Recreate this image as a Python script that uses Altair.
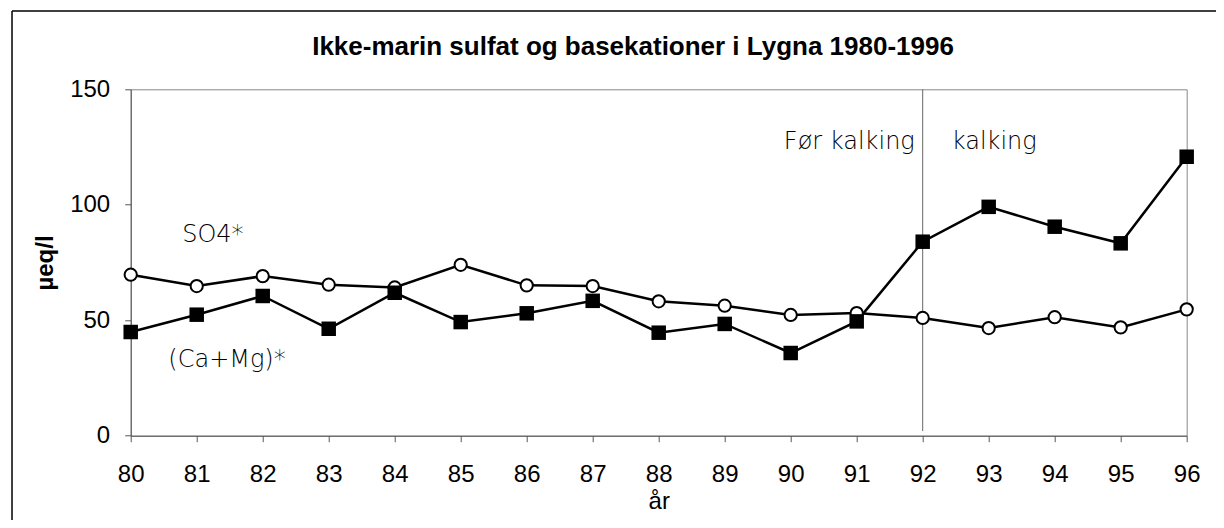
import altair as alt
import pandas as pd

years = [80, 81, 82, 83, 84, 85, 86, 87, 88, 89, 90, 91, 92, 93, 94, 95, 96]
so4 = [69.7, 64.8, 69.1, 65.4, 64.2, 74.0, 65.1, 64.8, 58.2, 56.3, 52.3, 53.1, 51.0, 46.6, 51.3, 46.9, 54.7]
camg = [44.9, 52.4, 60.5, 46.3, 61.9, 49.2, 53.0, 58.4, 44.6, 48.4, 35.8, 49.5, 84.0, 99.1, 90.5, 83.3, 120.8]

title_text = ["Ikke-marin sulfat og basekationer i Lygna 1980-1996"]

label_text = ["SO4*", "(Ca+Mg)*", "Før kalking", "kalking"]
label_x = [80.78, 80.57, 91.88, 92.44]
label_y = [87.0, 32.8, 127.0, 127.0]
label_align = ["left", "left", "right", "left"]

divider_year = [92]
divider_top = [150]
divider_bottom = [2]

W, H = 1056, 346.4
PAD_L, PAD_T = 122.7, 81.3

df_s = pd.DataFrame({"år": years, "v": so4})
df_c = pd.DataFrame({"år": years, "v": camg})
df_lab = pd.DataFrame({"t": label_text, "x": label_x, "y": label_y, "a": label_align})
df_div = pd.DataFrame({"x": divider_year, "y": divider_top, "y2": divider_bottom})
df_title = pd.DataFrame({"t": title_text})

xscale = alt.Scale(domain=[80, 96], nice=False, zero=False)
yscale = alt.Scale(domain=[0, 150], nice=False)

xenc = alt.X("år:Q", scale=xscale,
             axis=alt.Axis(values=years, format="d", title="år", grid=False,
                           tickSize=6, labelPadding=21, titlePadding=3, labelFlush=False,
                           labelFontSize=24, titleFontSize=24, titleFontWeight="normal",
                           labelFont="Liberation Sans", titleFont="Liberation Sans",
                           labelColor="black", titleColor="black",
                           domainColor="#555", tickColor="#555"))
yenc = alt.Y("v:Q", scale=yscale,
             axis=alt.Axis(values=[0, 50, 100, 150], title="µeq/l", grid=False,
                           tickSize=6, labelPadding=15, titlePadding=12, labelFlush=False,
                           labelFontSize=24, titleFontSize=24, titleFontWeight="bold",
                           labelFont="Liberation Sans", titleFont="Liberation Sans",
                           labelColor="black", titleColor="black",
                           domainColor="#555", tickColor="#555"))

divider = alt.Chart(df_div).mark_rule(color="#666", strokeWidth=1).encode(
    x=alt.X("x:Q", scale=xscale), y=alt.Y("y:Q", scale=yscale), y2="y2:Q")

line_s = alt.Chart(df_s).mark_line(color="black", strokeWidth=2.5).encode(x=xenc, y=yenc)
pts_s = alt.Chart(df_s).mark_point(shape="circle", filled=True, fill="white", stroke="black",
                                   strokeWidth=2, size=150, opacity=1).encode(x="år:Q", y="v:Q")
line_c = alt.Chart(df_c).mark_line(color="black", strokeWidth=2.5).encode(x="år:Q", y="v:Q")
pts_c = alt.Chart(df_c).mark_point(shape="square", filled=True, color="black",
                                   size=210, opacity=1).encode(x="år:Q", y="v:Q")

def text_layer(align):
    return alt.Chart(df_lab).transform_filter(alt.datum.a == align).mark_text(
        font="DejaVu Sans", fontSize=24, fontWeight=300, color="black",
        baseline="middle", align=align).encode(
        x=alt.X("x:Q", scale=xscale), y=alt.Y("y:Q", scale=yscale), text="t:N")

labels_l = text_layer("left")
labels_r = text_layer("right")

title = alt.Chart(df_title).mark_text(
    font="Liberation Sans", fontSize=26, fontWeight="bold", color="black",
    align="center", baseline="middle").encode(
    x=alt.value(633 - 8 - PAD_L), y=alt.value(47 - 8 - PAD_T), text="t:N")

frame_left = alt.Chart(df_div).mark_rule(color="black", strokeWidth=1.5).encode(
    x=alt.value(12 - 8 - PAD_L), y=alt.value(11 - 8 - PAD_T), y2=alt.value(600))
frame_top = alt.Chart(df_div).mark_rule(color="black", strokeWidth=1.5).encode(
    x=alt.value(12 - 8 - PAD_L), x2=alt.value(1300), y=alt.value(11 - 8 - PAD_T))

chart = alt.layer(frame_left, frame_top, divider, line_s, line_c, pts_s, pts_c,
                  labels_l, labels_r, title).properties(
    width=W, height=H,
    background="white",
    autosize=alt.AutoSizeParams(type="none"),
    padding={"left": PAD_L, "top": PAD_T, "right": 29.3, "bottom": 84},
).configure_view(stroke="#888", strokeWidth=1)

chart.save("out.html", embed_options={"renderer": "svg", "actions": False})
